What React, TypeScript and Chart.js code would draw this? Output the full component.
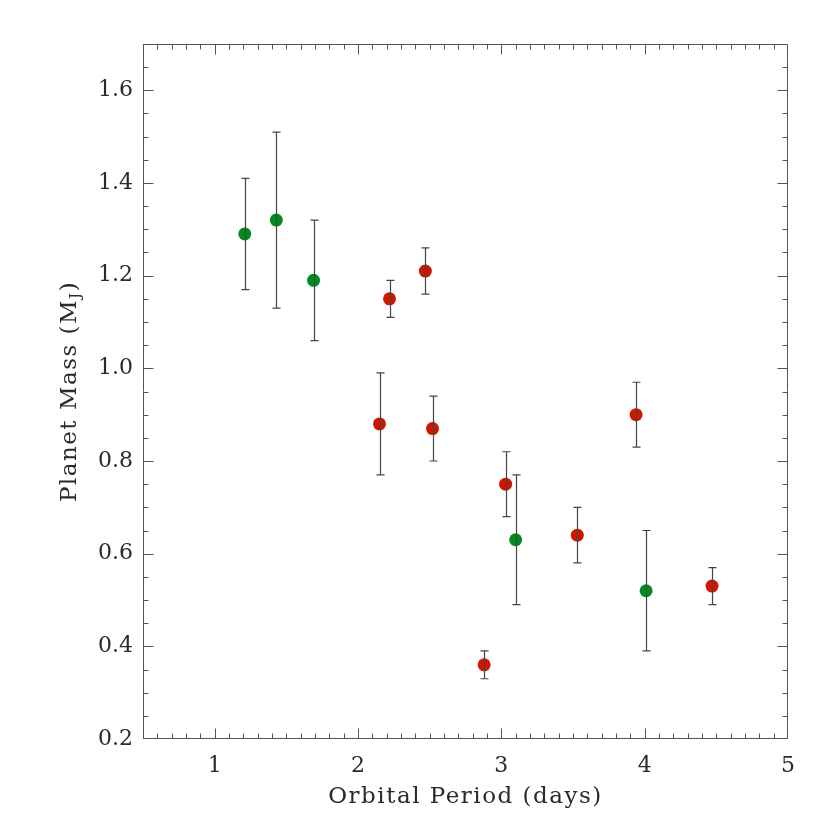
import React, { useEffect, useRef } from 'react';
import { Chart, registerables } from 'chart.js';
Chart.register(...registerables);

const X_TITLE = 'Orbital Period (days)';
const Y_TITLE_MAIN = 'Planet Mass (M';
const Y_TITLE_SUB = 'J';
const Y_TITLE_END = ')';

const X_TICKS = [1, 2, 3, 4, 5];
const Y_TICKS = [0.2, 0.4, 0.6, 0.8, 1.0, 1.2, 1.4, 1.6];

const GREEN_PERIOD = [1.21, 1.43, 1.69, 3.10, 4.01];
const GREEN_MASS = [1.29, 1.32, 1.19, 0.63, 0.52];
const GREEN_LOW = [1.17, 1.13, 1.06, 0.49, 0.39];
const GREEN_HIGH = [1.41, 1.51, 1.32, 0.77, 0.65];

const RED_PERIOD = [2.15, 2.22, 2.47, 2.52, 2.88, 3.03, 3.53, 3.94, 4.47];
const RED_MASS = [0.88, 1.15, 1.21, 0.87, 0.36, 0.75, 0.64, 0.90, 0.53];
const RED_LOW = [0.77, 1.11, 1.16, 0.80, 0.33, 0.68, 0.58, 0.83, 0.49];
const RED_HIGH = [0.99, 1.19, 1.26, 0.94, 0.39, 0.82, 0.70, 0.97, 0.57];

const FONT = '"DejaVu Serif", serif';
const TEXT_COLOR = '#2a2a2a';

function build(px: number[], m: number[], lo: number[], hi: number[]) {
  return px.map((x, i) => ({ x, y: m[i], yMin: lo[i], yMax: hi[i] }));
}

const frameTicksPlugin = {
  id: 'frameTicks',
  beforeDatasetsDraw(chart: any) {
    const { ctx, chartArea: a, scales } = chart;
    const xs = scales.x, ys = scales.y;
    const L = Math.floor(a.left) + 0.5;
    const R = Math.ceil(a.right) - 0.5;
    const T = Math.floor(a.top) + 0.5;
    const B = Math.ceil(a.bottom) - 0.5;
    const clamp = (v: number, lo: number, hi: number) => Math.min(Math.max(v, lo), hi);
    ctx.save();
    ctx.strokeStyle = '#555';
    ctx.lineWidth = 1;
    ctx.beginPath();
    ctx.rect(L, T, R - L, B - T);
    ctx.stroke();
    ctx.beginPath();
    for (let i = 5; i <= 50; i++) {
      const v = i / 10;
      const len = i % 10 === 0 ? 10 : 5;
      const p = clamp(Math.round(xs.getPixelForValue(v)) + 0.5, L, R);
      ctx.moveTo(p, B); ctx.lineTo(p, B - len);
      ctx.moveTo(p, T); ctx.lineTo(p, T + len);
    }
    for (let i = 4; i <= 34; i++) {
      const v = i / 20;
      const len = i % 4 === 0 ? 10 : 5;
      const p = clamp(Math.round(ys.getPixelForValue(v)) + 0.5, T, B);
      ctx.moveTo(L, p); ctx.lineTo(L + len, p);
      ctx.moveTo(R, p); ctx.lineTo(R - len, p);
    }
    ctx.stroke();

    // axis titles
    ctx.fillStyle = TEXT_COLOR;
    (ctx as any).letterSpacing = '1.5px';
    ctx.font = '23px ' + FONT;
    ctx.textAlign = 'center';
    ctx.textBaseline = 'alphabetic';
    const cx = (a.left + a.right) / 2;
    ctx.fillText(X_TITLE, cx, 803);

    const cy = (a.top + a.bottom) / 2;
    ctx.translate(76, cy);
    ctx.rotate(-Math.PI / 2);
    ctx.textAlign = 'left';
    ctx.font = '23px ' + FONT;
    const w1 = ctx.measureText(Y_TITLE_MAIN).width;
    const w3 = ctx.measureText(Y_TITLE_END).width;
    ctx.font = '15px ' + FONT;
    const w2 = ctx.measureText(Y_TITLE_SUB).width;
    const x0 = -(w1 + w2 + w3) / 2;
    ctx.font = '23px ' + FONT;
    ctx.fillText(Y_TITLE_MAIN, x0, 0);
    ctx.font = '15px ' + FONT;
    ctx.fillText(Y_TITLE_SUB, x0 + w1, 4);
    ctx.font = '23px ' + FONT;
    ctx.fillText(Y_TITLE_END, x0 + w1 + w2, 0);
    ctx.restore();
  },
};

const errorBarPlugin = {
  id: 'errorBars',
  afterDatasetsDraw(chart: any) {
    const { ctx, scales } = chart;
    const xs = scales.x, ys = scales.y;
    ctx.save();
    ctx.strokeStyle = '#444';
    ctx.lineWidth = 1.2;
    chart.data.datasets.forEach((ds: any) => {
      ds.data.forEach((d: any) => {
        const px = Math.round(xs.getPixelForValue(d.x)) + 0.5;
        const pLo = ys.getPixelForValue(d.yMin);
        const pHi = ys.getPixelForValue(d.yMax);
        ctx.beginPath();
        ctx.moveTo(px, pLo); ctx.lineTo(px, pHi);
        ctx.moveTo(px - 4, pLo); ctx.lineTo(px + 4, pLo);
        ctx.moveTo(px - 4, pHi); ctx.lineTo(px + 4, pHi);
        ctx.stroke();
      });
    });
    ctx.restore();
  },
};

export default function App() {
  const ref = useRef<HTMLCanvasElement>(null);
  useEffect(() => {
    if (!ref.current) return;
    const chart = new Chart(ref.current, {
      type: 'scatter',
      data: {
        datasets: [
          {
            label: 'green',
            data: build(GREEN_PERIOD, GREEN_MASS, GREEN_LOW, GREEN_HIGH),
            backgroundColor: '#008c1e',
            borderWidth: 0,
            pointRadius: 6.5,
          },
          {
            label: 'red',
            data: build(RED_PERIOD, RED_MASS, RED_LOW, RED_HIGH),
            backgroundColor: '#cc1800',
            borderWidth: 0,
            pointRadius: 6.5,
          },
        ],
      },
      options: {
        animation: false,
        responsive: true,
        maintainAspectRatio: false,
        layout: { padding: { top: 44, right: 42, left: 0, bottom: 0 } },
        plugins: { legend: { display: false }, tooltip: { enabled: false } },
        scales: {
          x: {
            type: 'linear',
            min: 0.5,
            max: 5,
            afterFit: (s: any) => { s.height = 91; },
            afterBuildTicks: (s: any) => { s.ticks = X_TICKS.map((v) => ({ value: v })); },
            grid: { display: false, drawTicks: false },
            border: { display: false },
            ticks: {
              padding: 14,
              color: TEXT_COLOR,
              font: { family: FONT, size: 22 },
              maxRotation: 0,
              callback: (v: any) => String(v),
            },
          },
          y: {
            type: 'linear',
            min: 0.2,
            max: 1.7,
            afterFit: (s: any) => { s.width = 143; },
            afterBuildTicks: (s: any) => { s.ticks = Y_TICKS.map((v) => ({ value: v })); },
            grid: { display: false, drawTicks: false },
            border: { display: false },
            ticks: {
              padding: 10,
              color: TEXT_COLOR,
              font: { family: FONT, size: 22 },
              callback: (v: any) => Number(v).toFixed(1),
            },
          },
        },
      },
      plugins: [frameTicksPlugin, errorBarPlugin],
    });
    return () => chart.destroy();
  }, []);
  return (
    <div style={{ position: 'fixed', left: 0, top: 0, width: 830, height: 830, background: '#fff' }}>
      <canvas ref={ref} />
    </div>
  );
}
